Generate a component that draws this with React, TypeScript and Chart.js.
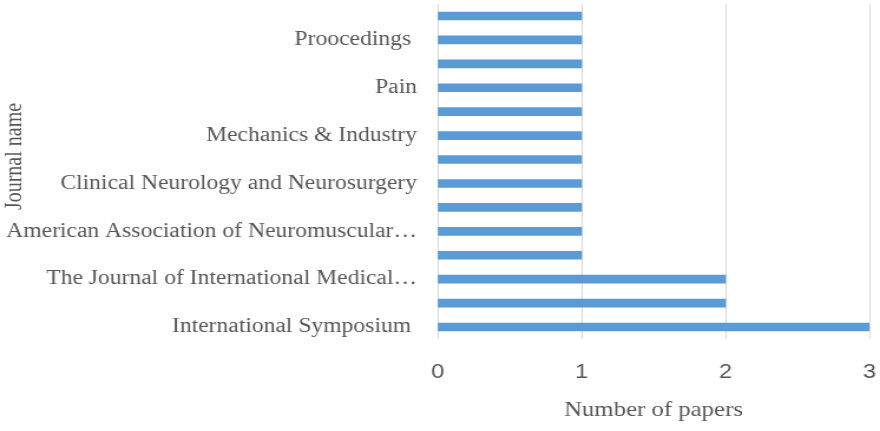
import React, { useEffect, useRef } from "react";
import { Chart, registerables } from "chart.js";

Chart.register(...registerables);

// Categories listed top to bottom; unlabeled rows are hidden in the source (label skipping)
const categories: string[] = [
  "",
  "Proocedings ",
  "",
  "Pain",
  "",
  "Mechanics & Industry",
  "",
  "Clinical Neurology and Neurosurgery",
  "",
  "American Association of Neuromuscular…",
  "",
  "The Journal of International Medical…",
  "",
  "International Symposium ",
];

const papers: number[] = [1, 1, 1, 1, 1, 1, 1, 1, 1, 1, 1, 2, 2, 3];

const xTicks: number[] = [0, 1, 2, 3];

const xTitle = "Number of papers";
// leading spaces nudge the centred vertical title upwards, as in the source
const yTitle = "      Journal name";

// canvas is drawn narrower and stretched horizontally, like the source image
const INTERNAL_W = 746;
const H = 431;

export default function App() {
  const ref = useRef<HTMLCanvasElement | null>(null);

  useEffect(() => {
    if (!ref.current) return;
    const serif = "'Liberation Serif', 'Times New Roman', serif";
    const sans = "'Liberation Sans', Arial, sans-serif";
    const textColor = "#575757";
    const chart = new Chart(ref.current, {
      type: "bar",
      data: {
        labels: categories,
        datasets: [
          {
            data: papers,
            backgroundColor: "#5B9BD5",
            borderWidth: 0,
            barThickness: 8,
          },
        ],
      },
      options: {
        indexAxis: "y",
        responsive: false,
        animation: false,
        devicePixelRatio: 1,
        layout: { padding: { top: 4, right: 9, left: 0, bottom: 0 } },
        plugins: {
          legend: { display: false },
          tooltip: { enabled: false },
        },
        scales: {
          x: {
            min: xTicks[0],
            max: xTicks[xTicks.length - 1],
            afterBuildTicks: (scale: any) => {
              scale.ticks = xTicks.map((v) => ({ value: v }));
            },
            afterFit: (scale: any) => {
              scale.height = 92;
              scale.paddingLeft = 0;
              scale.paddingRight = 0;
            },
            grid: {
              color: "#d9d9d9",
              lineWidth: 1,
              drawTicks: false,
            },
            border: { display: false },
            ticks: {
              color: textColor,
              padding: 21,
              font: { family: sans, size: 20 },
            },
            title: {
              display: true,
              text: xTitle,
              color: textColor,
              font: { family: serif, size: 21 },
              padding: { top: 0, bottom: 8 },
            },
          },
          y: {
            afterFit: (scale: any) => {
              scale.width = 371;
              scale.paddingTop = 0;
              scale.paddingBottom = 0;
            },
            grid: { display: false, drawTicks: false },
            border: { display: false },
            ticks: {
              autoSkip: false,
              color: textColor,
              padding: 17.5,
              font: { family: serif, size: 20 },
            },
            title: {
              display: true,
              text: yTitle,
              color: textColor,
              font: { family: serif, size: 20 },
              padding: { top: 1, bottom: 0 },
            },
          },
        },
      },
    });
    return () => chart.destroy();
  }, []);

  return (
    <div style={{ position: "fixed", left: 0, top: 0, width: 880, height: H, background: "#fff" }}>
      <canvas
        ref={ref}
        width={INTERNAL_W}
        height={H}
        style={{ width: "880px", height: H + "px", display: "block" }}
      />
    </div>
  );
}
